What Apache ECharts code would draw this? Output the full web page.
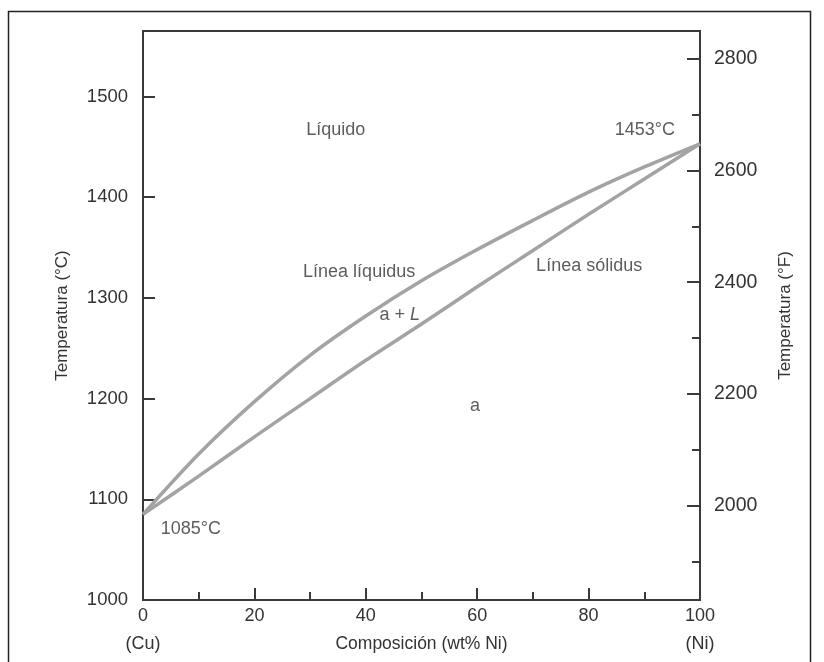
<!DOCTYPE html>
<html>
<head>
<meta charset="utf-8">
<script src="https://cdn.jsdelivr.net/npm/echarts@6/dist/echarts.min.js"></script>
<style>html,body{margin:0;padding:0;background:#fff}#c{width:824px;height:662px}</style>
</head>
<body>
<div id="c"></div>
<script>
// composition (wt% Ni)
var composition = [0, 10, 20, 30, 40, 50, 60, 70, 80, 90, 100];
// liquidus temperature (°C)
var liquidus = [1085, 1145, 1197, 1243, 1282, 1317, 1348, 1377, 1405, 1430, 1453];
// solidus temperature (°C)
var solidus = [1085, 1123, 1162, 1200, 1238, 1274, 1311, 1347, 1383, 1418, 1453];
// axis ranges and ticks
var tempMinC = 1000, tempMaxC = 1565;
var leftLabels = [1000, 1100, 1200, 1300, 1400, 1500];
var leftTicks = [1100, 1200, 1300, 1400, 1500];
var rightLabels = [2000, 2200, 2400, 2600, 2800];
var rightMinorTicks = [1900, 2100, 2300, 2500, 2700];
var xEndLabels = {0: '(Cu)', 100: '(Ni)'};
// annotations: [composition, temperature °C, text]
var annotations = [
  [34.6, 1467, 'Líquido'],
  [90.1, 1467, '1453°C'],
  [38.8, 1326, 'Línea líquidus'],
  [46.1, 1283, 'a + {i|L}'],
  [80.1, 1332, 'Línea sólidus'],
  [59.6, 1193, 'a'],
  [8.6, 1070.5, '1085°C']
];

function cToF(c) { return c * 1.8 + 32; }
function pairs(xs, ys) { return xs.map(function (x, i) { return [x, ys[i]]; }); }
function plain(v) { return String(v); }

var FONT = 'Liberation Sans';
var TXT = '#333';
var AX = '#3a3a3a';
var CURVE = '#a3a3a3';

var chart = echarts.init(document.getElementById('c'));
chart.setOption({
  animation: false,
  backgroundColor: '#fff',
  graphic: [{
    type: 'rect', left: 6, top: 9, z: -1,
    shape: {width: 802, height: 700},
    style: {fill: 'none', stroke: '#222', lineWidth: 1.5}
  }],
  grid: {left: 143, top: 31, right: 124, bottom: 62, show: true, borderColor: AX, borderWidth: 2,
         outerBoundsMode: 'none', containLabel: false},
  xAxis: {
    type: 'value', min: 0, max: 100, interval: 20,
    axisLine: {show: true, lineStyle: {color: AX, width: 2}},
    axisTick: {show: true, inside: true, length: 12, lineStyle: {color: AX, width: 2}},
    minorTick: {show: true, splitNumber: 2, length: 8, lineStyle: {color: AX, width: 2}},
    splitLine: {show: false},
    axisLabel: {
      margin: 2, color: TXT, fontFamily: FONT, fontSize: 18, lineHeight: 28,
      formatter: function (v) { return xEndLabels[v] ? v + '\n' + xEndLabels[v] : String(v); }
    },
    name: 'Composición (wt% Ni)', nameLocation: 'middle', nameGap: 35, nameMoveOverlap: false,
    nameTextStyle: {color: TXT, fontFamily: FONT, fontSize: 17.5}
  },
  yAxis: [{
    type: 'value', min: tempMinC, max: tempMaxC, position: 'left',
    axisLine: {show: true, lineStyle: {color: AX, width: 2}},
    axisTick: {show: true, inside: true, length: 12, customValues: leftTicks, lineStyle: {color: AX, width: 2}},
    splitLine: {show: false},
    axisLabel: {margin: 15, color: TXT, fontFamily: FONT, fontSize: 18.5, customValues: leftLabels, formatter: plain},
    name: 'Temperatura (°C)', nameLocation: 'middle', nameGap: 72, nameRotate: 90, nameMoveOverlap: false,
    nameTextStyle: {color: TXT, fontFamily: FONT, fontSize: 17}
  }, {
    type: 'value', min: cToF(tempMinC), max: cToF(tempMaxC), position: 'right',
    axisLine: {show: true, lineStyle: {color: AX, width: 2}},
    axisTick: {show: true, inside: true, length: 13, customValues: rightLabels, lineStyle: {color: AX, width: 2}},
    splitLine: {show: false},
    axisLabel: {margin: 14, color: TXT, fontFamily: FONT, fontSize: 19.5, customValues: rightLabels, formatter: plain},
    name: 'Temperatura (°F)', nameLocation: 'middle', nameGap: 77, nameRotate: 90, nameMoveOverlap: false,
    nameTextStyle: {color: TXT, fontFamily: FONT, fontSize: 17}
  }, {
    type: 'value', min: cToF(tempMinC), max: cToF(tempMaxC), position: 'right',
    axisLine: {show: false},
    axisTick: {show: true, inside: true, length: 8, customValues: rightMinorTicks, lineStyle: {color: AX, width: 2}},
    splitLine: {show: false},
    axisLabel: {show: false}
  }],
  series: [{
    type: 'line', name: 'liquidus', data: pairs(composition, liquidus),
    smooth: 0.3, showSymbol: false, symbol: 'none',
    lineStyle: {color: CURVE, width: 3.5}, z: 3
  }, {
    type: 'line', name: 'solidus', data: pairs(composition, solidus),
    smooth: 0.3, showSymbol: false, symbol: 'none',
    lineStyle: {color: CURVE, width: 3.5}, z: 3
  }, {
    type: 'scatter', symbolSize: 0, data: annotations.map(function (a) { return [a[0], a[1]]; }),
    silent: true, z: 5,
    label: {
      show: true, position: 'inside', color: TXT, fontFamily: FONT, fontSize: 18,
      formatter: function (p) { return annotations[p.dataIndex][2]; },
      rich: {i: {fontStyle: 'italic', fontFamily: FONT, fontSize: 18, color: TXT}}
    }
  }]
});
</script>
</body>
</html>
